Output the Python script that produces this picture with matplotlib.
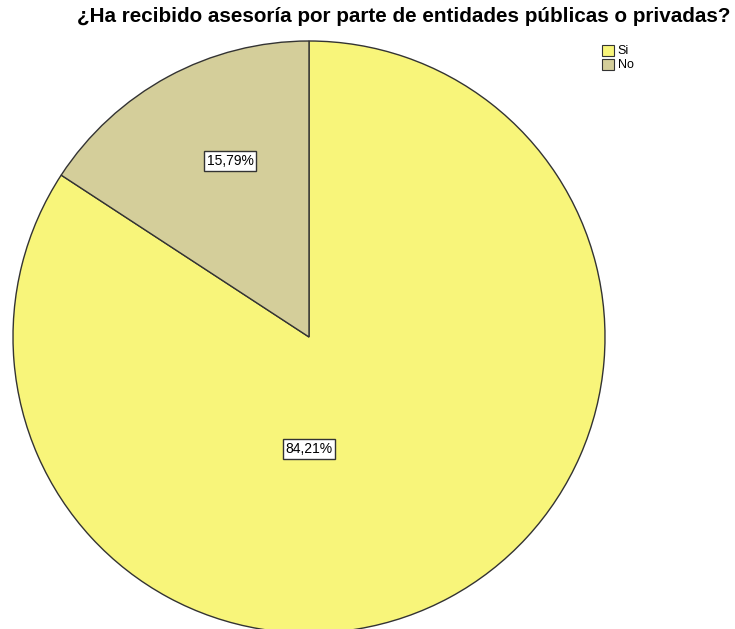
import matplotlib
matplotlib.use("Agg")
import matplotlib.pyplot as plt
from matplotlib.patches import Patch

categories = ["Si", "No"]
percentages = [84.21, 15.79]
colors = ["#F8F57A", "#D4CE9A"]
title = "¿Ha recibido asesoría por parte de entidades públicas o privadas?"

W, H = 735, 629
fig = plt.figure(figsize=(W / 100, H / 100), dpi=100)
fig.patch.set_facecolor("white")

# pie axes placed in pixel units
cx, cy, r = 309, 337, 296
ax = fig.add_axes([(cx - r) / W, (H - cy - r) / H, 2 * r / W, 2 * r / H])
ax.axis("off")

wedges, _ = ax.pie(
    percentages, colors=colors, startangle=90, counterclock=False, radius=1,
    wedgeprops=dict(edgecolor="#333333", linewidth=1.0),
)
ax.set_xlim(-1, 1)
ax.set_ylim(-1, 1)

label_pos = [(309, 449), (230, 161)]
for (px, py), v in zip(label_pos, percentages):
    fig.text(px / W, 1 - py / H, f"{v:.2f}%".replace(".", ","),
             ha="center", va="center", fontsize=10, family="Liberation Sans",
             bbox=dict(boxstyle="square,pad=0.2", facecolor="white",
                       edgecolor="#333333", linewidth=1.0))

fig.text(404 / W, 1 - 17 / H, title, ha="center", va="center",
         fontsize=14.9, fontweight="bold", family="Liberation Sans")

handles = [Patch(facecolor=c, edgecolor="#333333", linewidth=0.8) for c in colors]
leg = fig.legend(handles, categories, loc="upper left",
                 bbox_to_anchor=(594 / W, 1 - 37 / H), frameon=False,
                 prop=dict(family="Liberation Sans", size=9),
                 handlelength=1.0, handleheight=1.0, handletextpad=0.3,
                 labelspacing=0.1, borderpad=0.1)

fig.savefig("out.png", dpi=100)
